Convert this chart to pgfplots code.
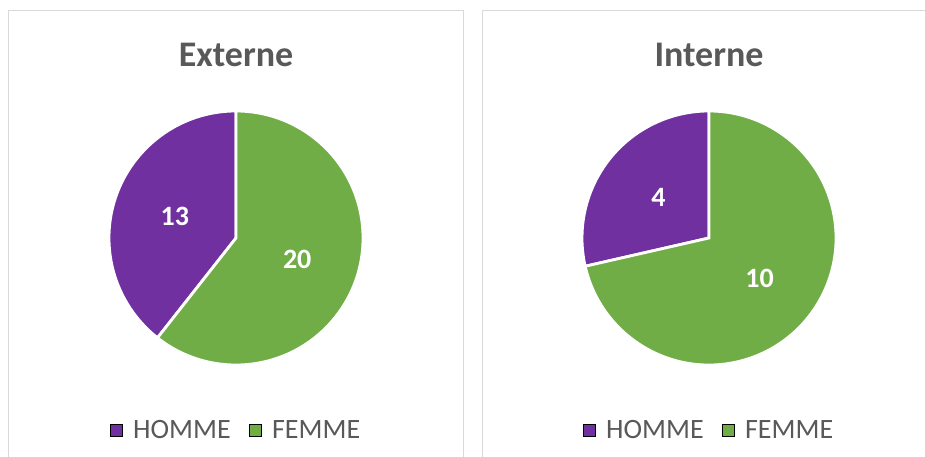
\documentclass[border=0pt]{standalone}
\usepackage{pgfplots}
\pgfplotsset{compat=1.18}
\usepackage{pgfplotstable}
\usepackage{fontspec}
\setmainfont{Carlito}
\definecolor{homme}{HTML}{7030A0}
\definecolor{femme}{HTML}{70AD47}
\definecolor{txt}{HTML}{595959}
\definecolor{frame}{HTML}{D9D9D9}

\pgfplotstableread{
genre value
HOMME 13
FEMME 20
}\externe
\pgfplotstableread{
genre value
HOMME 4
FEMME 10
}\interne

% compute slice angles from a table: #1 table, #2 prefix
\newcommand\pieangles[2]{%
  \pgfplotstablegetelem{0}{value}\of#1\edef\tmpa{\pgfplotsretval}%
  \pgfplotstablegetelem{1}{value}\of#1\edef\tmpb{\pgfplotsretval}%
  \expandafter\edef\csname #2h\endcsname{\tmpa}%
  \expandafter\edef\csname #2f\endcsname{\tmpb}%
  \pgfmathsetmacro\tmpc{90+360*\tmpa/(\tmpa+\tmpb)}%
  \expandafter\let\csname #2cut\endcsname\tmpc
  \pgfmathsetmacro\tmpd{(90+\tmpc)/2}%
  \expandafter\let\csname #2mh\endcsname\tmpd
  \pgfmathsetmacro\tmpe{(\tmpc+450)/2}%
  \expandafter\let\csname #2mf\endcsname\tmpe
}
\pieangles{\externe}{pA}
\pieangles{\interne}{pB}

\pgfplotsset{
  piestyle/.style={
    x=127pt, y=127pt, xmin=-1, xmax=1, ymin=-1, ymax=1,
    hide axis, clip=false, anchor=center,
    legend columns=2,
    legend style={at={(0.5,-0.256)}, anchor=center, draw=none, fill=none,
      font=\fontsize{28}{32}\selectfont, text=txt,
      /tikz/every even column/.append style={column sep=16pt}},
    legend image code/.code={\fill[##1] (0pt,-6pt) rectangle (12pt,6pt); \path (21pt,0pt);},
  },
}
\tikzset{
  lbl/.style={text=white, font=\fontsize{28}{32}\selectfont\bfseries},
  ttl/.style={text=txt, font=\fontsize{36}{40}\selectfont\bfseries},
}

\begin{document}
\begin{tikzpicture}
\path[use as bounding box] (0,0) rectangle (925pt,457pt);
\clip (0,0) rectangle (925pt,457pt);
\fill[white] (0,0) rectangle (925pt,457pt);
\draw[frame, line width=1.5pt] (8.3pt,-20pt) rectangle (463.3pt,446.3pt);
\draw[frame, line width=1.5pt] (482.7pt,-20pt) rectangle (945pt,446.3pt);

\begin{axis}[piestyle, at={(236pt,219pt)}]
\addlegendimage{fill=homme}\addlegendentry{HOMME}
\addlegendimage{fill=femme}\addlegendentry{FEMME}
\fill[homme, draw=white, line width=2.8pt] (axis cs:0,0) -- (axis cs:0,1) arc[start angle=90, end angle=\pAcut, radius=127pt] -- cycle;
\fill[femme, draw=white, line width=2.8pt] (axis cs:0,0) -- (axis cs:{cos(\pAcut)},{sin(\pAcut)}) arc[start angle=\pAcut, end angle=450, radius=127pt] -- cycle;
\node[lbl] at (axis cs:{0.51*cos(\pAmh)},{0.51*sin(\pAmh)}) {\pAh};
\node[lbl] at (axis cs:{0.51*cos(\pAmf)},{0.51*sin(\pAmf)}) {\pAf};
\node[ttl] at (axis cs:0,1.445) {Externe};
\end{axis}

\begin{axis}[piestyle, at={(709pt,219pt)}]
\addlegendimage{fill=homme}\addlegendentry{HOMME}
\addlegendimage{fill=femme}\addlegendentry{FEMME}
\fill[homme, draw=white, line width=2.8pt] (axis cs:0,0) -- (axis cs:0,1) arc[start angle=90, end angle=\pBcut, radius=127pt] -- cycle;
\fill[femme, draw=white, line width=2.8pt] (axis cs:0,0) -- (axis cs:{cos(\pBcut)},{sin(\pBcut)}) arc[start angle=\pBcut, end angle=450, radius=127pt] -- cycle;
\node[lbl] at (axis cs:{0.51*cos(\pBmh)},{0.51*sin(\pBmh)}) {\pBh};
\node[lbl] at (axis cs:{0.51*cos(\pBmf)},{0.51*sin(\pBmf)}) {\pBf};
\node[ttl] at (axis cs:0,1.445) {Interne};
\end{axis}
\end{tikzpicture}
\end{document}
